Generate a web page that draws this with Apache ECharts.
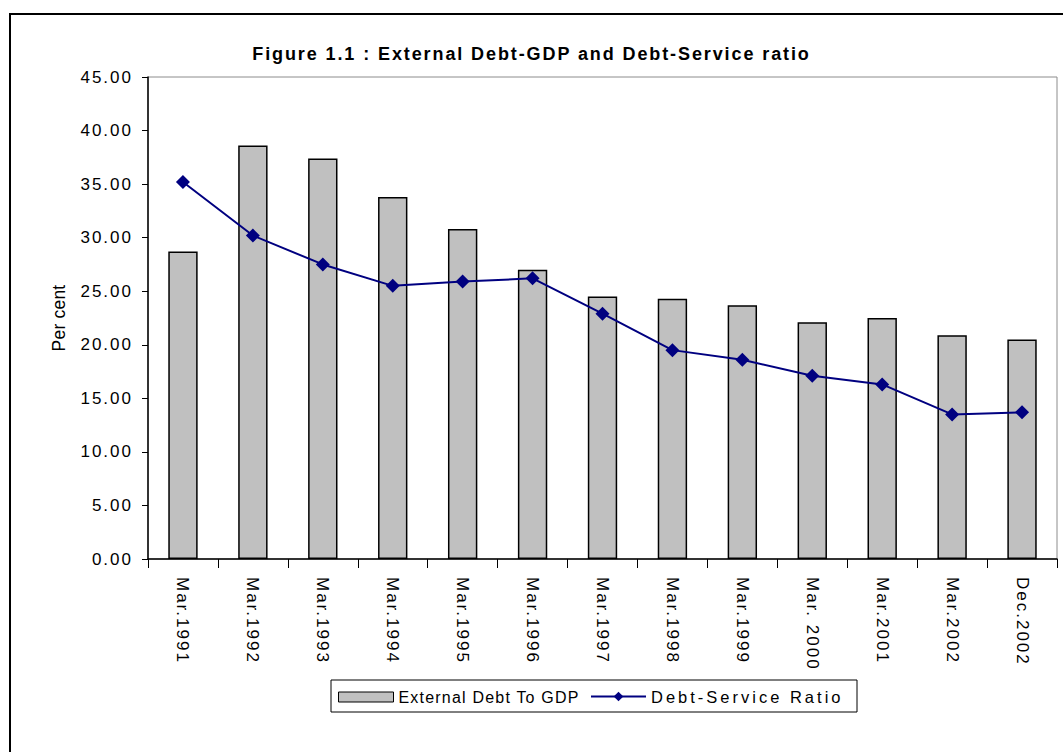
<!DOCTYPE html>
<html>
<head>
<meta charset="utf-8">
<script src="https://cdn.jsdelivr.net/npm/echarts@6/dist/echarts.min.js"></script>
<style>
  html, body { margin: 0; padding: 0; background: #fff; }
  #chart { width: 1063px; height: 752px; }
  /* spaced-out lettering for the chart text */
  #chart svg text { letter-spacing: 2px; }
  #chart svg text[style*="bold"] { letter-spacing: 1.9px; }
  #chart svg text[style*="16px"] { letter-spacing: 1.2px; }
  #chart svg text[style*="16.5px"] { letter-spacing: 3px; }
  #chart svg text[style*="17.5px"] { letter-spacing: 0.2px; }
</style>
</head>
<body>
<div id="chart"></div>
<script>
// Period labels (fiscal year-end quarters)
const categories = ['Mar.1991', 'Mar.1992', 'Mar.1993', 'Mar.1994', 'Mar.1995', 'Mar.1996',
  'Mar.1997', 'Mar.1998', 'Mar.1999', 'Mar. 2000', 'Mar.2001', 'Mar.2002', 'Dec.2002'];

// External debt as per cent of GDP
const debtToGdp = [28.7, 38.6, 37.4, 33.8, 30.8, 27.0, 24.5, 24.3, 23.7, 22.1, 22.5, 20.9, 20.5];

// Debt-service ratio, per cent
const debtServiceRatio = [35.2, 30.2, 27.5, 25.5, 25.9, 26.2, 22.9, 19.5, 18.6, 17.1, 16.3, 13.5, 13.7];

const FONT = '"Liberation Sans", Arial, sans-serif';

const chart = echarts.init(document.getElementById('chart'), null, { renderer: 'svg' });

chart.setOption({
  backgroundColor: '#ffffff',
  animation: false,
  title: {
    text: 'Figure 1.1 : External Debt-GDP and Debt-Service ratio',
    left: 'center',
    top: 40,
    textStyle: { fontFamily: FONT, fontSize: 18, fontWeight: 'bold', color: '#000' }
  },
  graphic: [
    // outer chart frame
    { type: 'rect', shape: { x: 10, y: 14, width: 1060, height: 750 },
      style: { fill: 'none', stroke: '#000', lineWidth: 2 }, z: 0 },
    // legend frame
    { type: 'rect', shape: { x: 331, y: 680, width: 526, height: 32 },
      style: { fill: 'none', stroke: '#000', lineWidth: 1 }, z: 0 }
  ],
  legend: [
    {
      left: 338, top: 689, padding: 0,
      itemWidth: 55, itemHeight: 10,
      textStyle: { fontFamily: FONT, fontSize: 16, color: '#000' },
      data: [{ name: 'External Debt To GDP', icon: 'rect',
        itemStyle: { color: '#c0c0c0', borderColor: '#000', borderWidth: 1 } }]
    },
    {
      left: 590, top: 688, padding: 0,
      itemWidth: 55, itemHeight: 12,
      textStyle: { fontFamily: FONT, fontSize: 16.5, color: '#000' },
      data: [{ name: 'Debt-Service Ratio' }]
    }
  ],
  grid: {
    left: 148, top: 77, right: 6, bottom: 193,
    show: true, borderColor: '#8c8c8c', borderWidth: 1, backgroundColor: '#fff'
  },
  xAxis: {
    type: 'category',
    data: categories,
    axisLine: { lineStyle: { color: '#000', width: 1.5 } },
    axisTick: { show: true, length: 9, lineStyle: { color: '#000' } },
    axisLabel: {
      rotate: -90,
      margin: 18,
      fontFamily: FONT, fontSize: 17, color: '#000'
    }
  },
  yAxis: {
    type: 'value',
    min: 0, max: 45, interval: 5,
    name: 'Per cent',
    nameLocation: 'middle',
    nameGap: 80,
    nameRotate: 90,
    nameTextStyle: { fontFamily: FONT, fontSize: 17.5, color: '#000' },
    axisLine: { show: true, lineStyle: { color: '#000', width: 1.5 } },
    axisTick: { show: true, length: 6, lineStyle: { color: '#000' } },
    splitLine: { show: false },
    axisLabel: {
      margin: 15,
      fontFamily: FONT, fontSize: 17, color: '#000',
      formatter: v => v.toFixed(2)
    }
  },
  series: [
    {
      name: 'External Debt To GDP',
      type: 'bar',
      data: debtToGdp,
      barWidth: '42%',
      itemStyle: { color: '#c0c0c0', borderColor: '#000', borderWidth: 1.5 }
    },
    {
      name: 'Debt-Service Ratio',
      type: 'line',
      data: debtServiceRatio,
      symbol: 'diamond',
      symbolSize: 14,
      lineStyle: { color: '#000080', width: 2 },
      itemStyle: { color: '#000080' }
    }
  ]
});
</script>
</body>
</html>
